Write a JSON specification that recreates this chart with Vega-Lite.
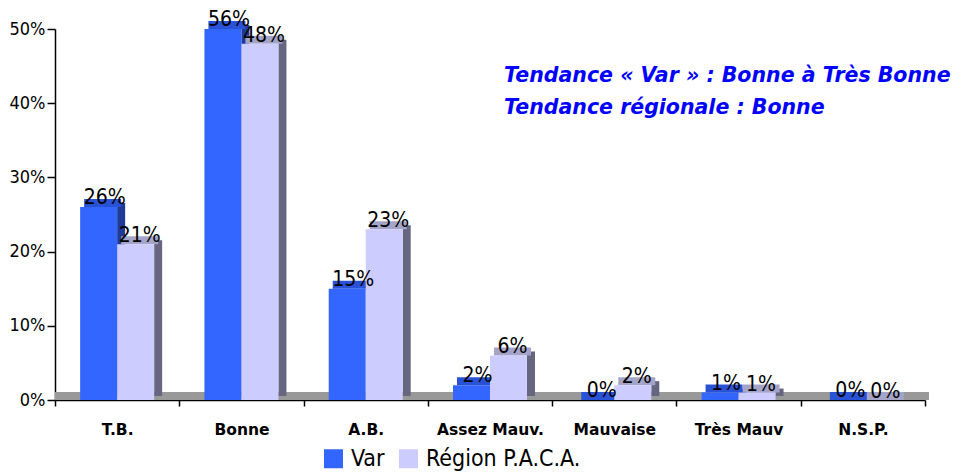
{
  "$schema": "https://vega.github.io/schema/vega-lite/v6.json",
  "width": 870,
  "height": 371,
  "autosize": {"type": "none"},
  "padding": {"left": 55, "top": 29, "right": 28, "bottom": 72},
  "background": "white",
  "config": {
    "view": {"stroke": null},
    "font": "Liberation Sans Narrow, DejaVu Sans Condensed, Arial Narrow, sans-serif"
  },
  "datasets": {
    "bars": [
      {"cat": "T.B.", "series": "Var", "value": 0.26},
      {"cat": "T.B.", "series": "Région P.A.C.A.", "value": 0.21},
      {"cat": "Bonne", "series": "Var", "value": 0.56},
      {"cat": "Bonne", "series": "Région P.A.C.A.", "value": 0.48},
      {"cat": "A.B.", "series": "Var", "value": 0.15},
      {"cat": "A.B.", "series": "Région P.A.C.A.", "value": 0.23},
      {"cat": "Assez Mauv.", "series": "Var", "value": 0.02},
      {"cat": "Assez Mauv.", "series": "Région P.A.C.A.", "value": 0.06},
      {"cat": "Mauvaise", "series": "Var", "value": 0.0},
      {"cat": "Mauvaise", "series": "Région P.A.C.A.", "value": 0.02},
      {"cat": "Très Mauv", "series": "Var", "value": 0.01},
      {"cat": "Très Mauv", "series": "Région P.A.C.A.", "value": 0.01},
      {"cat": "N.S.P.", "series": "Var", "value": 0.0},
      {"cat": "N.S.P.", "series": "Région P.A.C.A.", "value": 0.0}
    ],
    "notes": [
      {"cat": "Assez Mauv.", "v": 0.436, "t": "Tendance « Var » : Bonne à Très Bonne"},
      {"cat": "Assez Mauv.", "v": 0.394, "t": "Tendance régionale : Bonne"}
    ]
  },
  "data": {"name": "bars"},
  "layer": [
    {
      "data": {"values": [{"z": 0}]},
      "mark": {"type": "rule", "color": "#999999", "strokeWidth": 8, "yOffset": -4, "xOffset": 4},
      "encoding": {
        "y": {"field": "z", "type": "quantitative", "scale": {"domain": [0, 0.5], "clamp": true, "nice": false},
          "axis": {"title": null, "values": [0, 0.1, 0.2, 0.3, 0.4, 0.5], "format": ".0%", "grid": false, "domainColor": "#000000", "domainWidth": 1.5, "tickColor": "#000000", "tickWidth": 1.5, "tickSize": 8, "labelFontSize": 18, "labelColor": "#000000", "labelPadding": 2}}
      }
    },
    {
      "transform": [{"filter": "datum.series === 'Var'"}],
      "mark": {"type": "bar", "width": 8, "xOffset": 4, "yOffset": -4, "y2Offset": -4, "color": "#1E3A96"},
      "encoding": {
        "x": {"field": "cat", "type": "nominal", "scale": {"domain": ["T.B.", "Bonne", "A.B.", "Assez Mauv.", "Mauvaise", "Très Mauv", "N.S.P."], "paddingInner": 0, "paddingOuter": 0},
          "axis": {"title": null, "labelAngle": 0, "domainColor": "#000000", "domainWidth": 1.5, "tickColor": "#000000", "tickWidth": 1.5, "tickSize": 6, "tickBand": "extent", "labelFont": "DejaVu Sans", "labelFontWeight": "bold", "labelFontSize": 15.5, "labelColor": "#000000", "labelPadding": 16, "labelBaseline": "top"}},
        "y": {"field": "value", "type": "quantitative"}
      }
    },
    {
      "transform": [{"filter": "datum.series === 'Var'"}],
      "mark": {"type": "tick", "size": 37, "thickness": 8, "xOffset": -14.5, "yOffset": -4, "color": "#2A52D6", "opacity": 1},
      "encoding": {
        "x": {"field": "cat", "type": "nominal"},
        "y": {"field": "value", "type": "quantitative"}
      }
    },
    {
      "transform": [{"filter": "datum.series === 'Var'"}],
      "mark": {"type": "bar", "width": 37, "xOffset": -18.5},
      "encoding": {
        "x": {"field": "cat", "type": "nominal"},
        "y": {"field": "value", "type": "quantitative"},
        "color": {"field": "series", "type": "nominal", "scale": {"domain": ["Var", "Région P.A.C.A."], "range": ["#3366FF", "#CCCCFF"]},
          "legend": {"orient": "none", "legendX": 267, "legendY": 418, "direction": "horizontal", "columns": 2, "title": null, "symbolType": "square", "symbolSize": 361, "symbolStrokeWidth": 0, "symbolOpacity": 1, "labelFontSize": 23, "labelColor": "#000000", "labelOffset": 6, "columnPadding": 12, "labelLimit": 300}}
      }
    },
    {
      "transform": [{"filter": "datum.series !== 'Var'"}],
      "mark": {"type": "bar", "width": 8, "xOffset": 41, "yOffset": -4, "y2Offset": -4, "color": "#666680"},
      "encoding": {
        "x": {"field": "cat", "type": "nominal"},
        "y": {"field": "value", "type": "quantitative"}
      }
    },
    {
      "transform": [{"filter": "datum.series !== 'Var'"}],
      "mark": {"type": "tick", "size": 37, "thickness": 8, "xOffset": 22.5, "yOffset": -4, "color": "#A4A4C8", "opacity": 1},
      "encoding": {
        "x": {"field": "cat", "type": "nominal"},
        "y": {"field": "value", "type": "quantitative"}
      }
    },
    {
      "transform": [{"filter": "datum.series !== 'Var'"}],
      "mark": {"type": "bar", "width": 37, "xOffset": 18.5},
      "encoding": {
        "x": {"field": "cat", "type": "nominal"},
        "y": {"field": "value", "type": "quantitative"},
        "color": {"field": "series", "type": "nominal"}
      }
    },
    {
      "transform": [{"filter": "datum.series === 'Var'"}],
      "mark": {"type": "text", "dx": -12.5, "dy": -3, "baseline": "alphabetic", "fontSize": 21, "color": "#000000"},
      "encoding": {
        "x": {"field": "cat", "type": "nominal"},
        "y": {"field": "value", "type": "quantitative"},
        "text": {"field": "value", "type": "quantitative", "format": ".0%"}
      }
    },
    {
      "transform": [{"filter": "datum.series !== 'Var'"}],
      "mark": {"type": "text", "dx": 22.5, "dy": -2, "baseline": "alphabetic", "fontSize": 21, "color": "#000000"},
      "encoding": {
        "x": {"field": "cat", "type": "nominal"},
        "y": {"field": "value", "type": "quantitative"},
        "text": {"field": "value", "type": "quantitative", "format": ".0%"}
      }
    },
    {
      "data": {"name": "notes"},
      "mark": {"type": "text", "align": "left", "dx": 14, "baseline": "middle", "font": "DejaVu Sans", "fontWeight": "bold", "fontStyle": "italic", "fontSize": 20.5, "color": "#0000FF"},
      "encoding": {
        "x": {"field": "cat", "type": "nominal"},
        "y": {"field": "v", "type": "quantitative"},
        "text": {"field": "t"}
      }
    }
  ]
}
